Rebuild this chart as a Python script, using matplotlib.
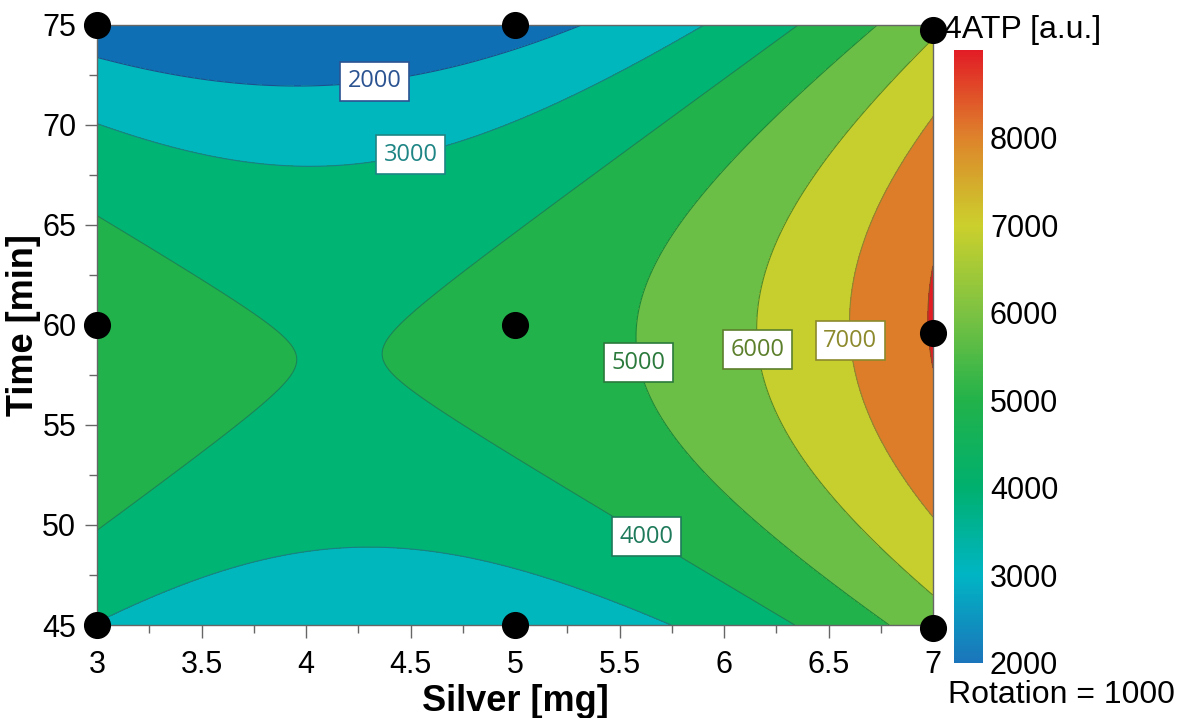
import numpy as np
import matplotlib
matplotlib.use("Agg")
import matplotlib.pyplot as plt
from matplotlib.colors import LinearSegmentedColormap, Normalize
from matplotlib.cm import ScalarMappable
from matplotlib.ticker import MultipleLocator, FuncFormatter

# quadratic response surface for 4ATP signal, coded factors
# A = (silver - 5) / 2 , B = (time - 60) / 15
b0 = 4326.0
bA = 1734.0
bB = -320.0
bAA = 2008.0
bBB = -2405.0
bAB = 449.0

# design points (silver mg, time min)
design_silver = [3, 3, 3, 5, 5, 5, 7, 7, 7]
design_time = [45, 60, 75, 45, 60, 75, 44.85, 59.6, 74.75]

levels = [2000, 3000, 4000, 5000, 6000, 7000, 8000]
band_colors = ["#0f6fb5", "#00b7bd", "#00b474", "#22b24c", "#6cbf46", "#c7cf2e", "#dd7c29", "#e31b23"]
line_colors = ["#1d4f8c", "#1a7f84", "#17855a", "#1a8a3a", "#4f8a2a", "#8a8a30", "#8a5020"]
label_colors = ["#2b5391", "#1f8585", "#1e7a5a", "#2b7a3c", "#5c7f2c", "#8c8a2c", "#8a5020"]

# where the contour labels sit
label_levels = [2000, 3000, 4000, 5000, 6000, 7000]
label_pos = [(4.33, 72.15), (4.50, 68.55), (5.63, 49.4), (5.58, 58.1), (6.16, 58.75), (6.60, 59.2)]

# colour bar gradient
cbar_values = [2000, 3000, 4000, 5000, 6000, 7000, 8000, 9000]
cbar_colors = ["#1b75bb", "#00b5c4", "#00b06e", "#22b24a", "#7cc242", "#cbd02c", "#de842b", "#e21d26"]


def surface(silver, time):
    A = (silver - 5) / 2
    B = (time - 60) / 15
    return b0 + bA * A + bB * B + bAA * A**2 + bBB * B**2 + bAB * A * B


silver = np.linspace(3, 7, 400)
time = np.linspace(45, 75, 400)
X, Y = np.meshgrid(silver, time)
Z = surface(X, Y)

plt.rcParams['font.family'] = ['Liberation Sans', 'DejaVu Sans']

fig = plt.figure(figsize=(11.86, 7.18), dpi=100)
ax = fig.add_axes([97 / 1186, 93 / 718, 836 / 1186, 600 / 718])

ax.contourf(X, Y, Z, levels=[Z.min() - 1] + levels + [Z.max() + 1], colors=band_colors)
cs = ax.contour(X, Y, Z, levels=levels, colors=line_colors, linewidths=0.8)

# labels only on the lines that carry one
lab_cs = ax.contour(X, Y, Z, levels=label_levels, colors="none")
texts = ax.clabel(lab_cs, fmt="%d", manual=label_pos, inline=False, fontsize=17)
for t in texts:
    lev = int(t.get_text())
    c = label_colors[levels.index(lev)]
    t.set_rotation(0)
    t.set_color(c)
    t.set_fontfamily("Open Sans")
    t.set_bbox(dict(boxstyle="square,pad=0.32", facecolor="white", edgecolor=c, linewidth=1.2))
    t.set_zorder(4)

ax.plot(design_silver, design_time, "o", color="black", ms=18.5, clip_on=False, zorder=6)

ax.set_xlim(3, 7)
ax.set_ylim(45, 75)
ax.xaxis.set_major_locator(MultipleLocator(0.5))
ax.xaxis.set_minor_locator(MultipleLocator(0.25))
ax.yaxis.set_major_locator(MultipleLocator(5))
ax.yaxis.set_minor_locator(MultipleLocator(2.5))
ax.xaxis.set_major_formatter(FuncFormatter(lambda v, p: f"{v:g}"))
ax.yaxis.set_major_formatter(FuncFormatter(lambda v, p: f"{v:g}"))
ax.tick_params(which="major", length=9, width=1, color="#666666", labelsize=22, pad=6)
ax.tick_params(which="minor", length=6, width=1, color="#666666")
ax.tick_params(axis="x", which="major", pad=9)
for s in ax.spines.values():
    s.set_color("#666666")
    s.set_linewidth(1)

ax.set_xlabel("Silver [mg]", fontsize=26, fontweight="bold", labelpad=3)
ax.set_ylabel("Time [min]", fontsize=26, fontweight="bold", labelpad=1)

# colour bar
cax = fig.add_axes([954 / 1186, 55 / 718, 29 / 1186, 613 / 718])
cmap = LinearSegmentedColormap.from_list(
    "atp", [((v - 2000) / 7000, c) for v, c in zip(cbar_values, cbar_colors)])
sm = ScalarMappable(norm=Normalize(2000, 9000), cmap=cmap)
cb = fig.colorbar(sm, cax=cax, ticks=levels)
cb.outline.set_visible(False)
cax.tick_params(length=0, labelsize=22, pad=5)

fig.text(944 / 1186, 1 - 30 / 718, "4ATP [a.u.]", fontsize=23, va="center", ha="left")
fig.text(948 / 1186, 1 - 695 / 718, "Rotation = 1000", fontsize=23, va="center", ha="left")

fig.savefig("out.png")
